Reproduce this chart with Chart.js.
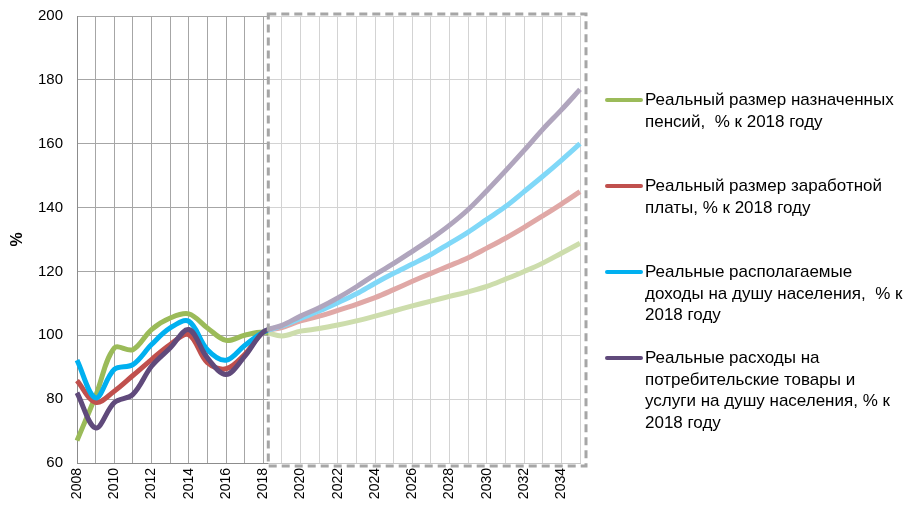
<!DOCTYPE html>
<html>
<head>
<meta charset="utf-8">
<script src="https://cdn.jsdelivr.net/npm/chart.js@4"></script>
<style>
  html, body { margin: 0; padding: 0; background: #fff; overflow: hidden; }
  #wrap { position: relative; width: 907px; height: 509px; overflow: hidden; }
  #chart { position: absolute; left: 0; top: -7px; }
  #legend { position: absolute; left: 0; top: 0; font-family: "Liberation Sans", Arial, sans-serif; font-size: 17px; color: #000; }
  .item { position: absolute; left: 605px; width: 302px; }
  .item .swatch { position: absolute; left: 0; top: 9px; width: 38px; height: 4px; border-radius: 2px; }
  .item .txt { position: absolute; left: 40px; top: 0; line-height: 21.5px; white-space: pre; }
</style>
</head>
<body>
<div id="wrap">
  <canvas id="chart" width="907" height="516"></canvas>
  <div id="legend"></div>
</div>
<script>
// Годы (категории)
const years = ['2008','2009','2010','2011','2012','2013','2014','2015','2016','2017',
               '2018','2019','2020','2021','2022','2023','2024','2025','2026','2027',
               '2028','2029','2030','2031','2032','2033','2034','2035'];

// Ряды, % к 2018 году (после 2018 — прогноз)
const pensions = [67, 81, 96, 95.5, 101.8, 105.4, 106.7, 102.3, 98.4, 100, 101,
                  99.8, 101.3, 102.1, 103.2, 104.5, 106, 107.6, 109.2, 110.7, 112.2,
                  113.6, 115.3, 117.6, 120, 122.6, 125.7, 128.8];
const wages    = [85.8, 79, 82.5, 87.4, 92.4, 97.1, 100.2, 91.4, 89.5, 94, 101,
                  102.4, 104.5, 106, 107.8, 109.7, 111.8, 114.3, 116.9, 119.4, 121.8,
                  124.3, 127.3, 130.4, 133.8, 137.4, 141.1, 145];
const incomes  = [92.2, 80.4, 89.3, 90.8, 97.1, 102.3, 104.4, 95.5, 92.2, 96.8, 101,
                  102.9, 105.3, 107.6, 110.2, 113, 116.3, 119.4, 122.3, 125.3, 128.8,
                  132.3, 136.3, 140.3, 145, 149.8, 154.8, 160];
const spending = [82, 71, 78.9, 81.5, 90.3, 96, 101.8, 92.9, 87.7, 93.4, 101,
                  103.1, 106, 108.6, 111.7, 115.2, 119, 122.5, 126.3, 130.2, 134.5,
                  139.4, 145.3, 151.5, 157.9, 164.5, 170.6, 177];

// Подписи легенды (по строкам)
const seriesNames = [
  ['Реальный размер назначенных', 'пенсий,  % к 2018 году'],
  ['Реальный размер заработной', 'платы, % к 2018 году'],
  ['Реальные располагаемые', 'доходы на душу населения,  % к', '2018 году'],
  ['Реальные расходы на', 'потребительские товары и', 'услуги на душу населения, % к', '2018 году']
];
const colors = ['#9BBB59', '#C0504D', '#00B0F0', '#604A7B'];
const seriesData = [pensions, wages, incomes, spending];

const forecastStart = years.indexOf('2018');
const FONT = '"Liberation Sans", Arial, sans-serif';

// Прогнозная зона: полупрозрачная белая заливка + пунктирная рамка
const forecastBox = {
  id: 'forecastBox',
  afterDatasetsDraw(chart) {
    const { ctx, chartArea, scales } = chart;
    const x0 = scales.x.getPixelForValue(forecastStart) + 5;
    const x1 = chartArea.right + 6;
    const y0 = chartArea.top - 2;
    const y1 = chartArea.bottom + 3;
    ctx.save();
    ctx.fillStyle = 'rgba(255,255,255,0.5)';
    ctx.fillRect(x0, y0, x1 - x0, y1 - y0);
    ctx.setLineDash([8, 5]);
    ctx.lineWidth = 3;
    ctx.strokeStyle = '#A6A6A6';
    ctx.strokeRect(x0, y0, x1 - x0, y1 - y0);
    ctx.restore();
  }
};

new Chart(document.getElementById('chart'), {
  type: 'line',
  data: {
    labels: years,
    datasets: seriesData.map((d, i) => ({
      label: seriesNames[i].join(' '),
      data: d,
      borderColor: colors[i],
      borderWidth: 5,
      pointRadius: 0,
      tension: 0.35,
      fill: false,
      order: 3 - i
    }))
  },
  options: {
    responsive: false,
    animation: false,
    events: [],
    layout: { padding: { left: 0, right: 327, top: 0, bottom: 0 } },
    plugins: { legend: { display: false }, tooltip: { enabled: false } },
    scales: {
      x: {
        offset: false,
        grid: { color: '#A6A6A6', lineWidth: 1, drawTicks: false },
        border: { color: '#8C8C8C', width: 1 },
        ticks: {
          autoSkip: false,
          maxRotation: 90,
          minRotation: 90,
          padding: 5,
          color: '#000',
          font: { family: FONT, size: 14 },
          callback: (v, i) => (i % 2 === 0 ? years[i] : '')
        },
        afterFit: s => { s.height = 46; }
      },
      y: {
        min: 60,
        max: 200,
        grid: { color: '#A6A6A6', lineWidth: 1, drawTicks: false },
        border: { color: '#8C8C8C', width: 1 },
        ticks: {
          stepSize: 20,
          padding: 14,
          color: '#000',
          font: { family: FONT, size: 15 }
        },
        title: {
          display: true,
          text: '%',
          color: '#000',
          padding: { top: 8, bottom: 0 },
          font: { family: FONT, size: 16, weight: 'bold' }
        },
        afterFit: s => { s.width = 77; }
      }
    }
  },
  plugins: [forecastBox]
});

// HTML-легенда справа
const legend = document.getElementById('legend');
seriesNames.forEach((lines, i) => {
  const item = document.createElement('div');
  item.className = 'item';
  item.style.top = (89 + i * 86) + 'px';
  const sw = document.createElement('div');
  sw.className = 'swatch';
  sw.style.background = colors[i];
  const txt = document.createElement('div');
  txt.className = 'txt';
  txt.textContent = lines.join('\n');
  item.append(sw, txt);
  legend.append(item);
});
</script>
</body>
</html>
